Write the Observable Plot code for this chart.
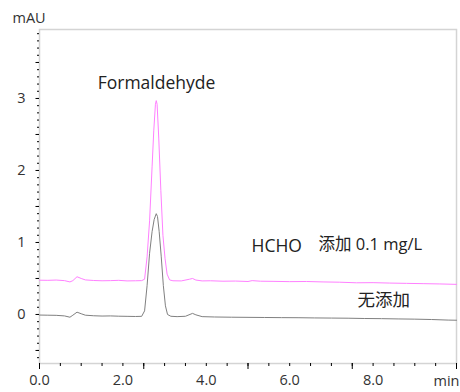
<!DOCTYPE html>
<html>
<head>
<meta charset="utf-8">
<script src="https://cdn.jsdelivr.net/npm/d3@7"></script>
<script src="https://cdn.jsdelivr.net/npm/@observablehq/plot@0.6"></script>
<style>
  html, body { margin: 0; padding: 0; background: #fff; }
  #chart { width: 460px; height: 392px; }
</style>
</head>
<body>
<div id="chart"></div>
<script>
// retention time (min) and absorbance (mAU)
const spikedTime = [0.0,0.2,0.4,0.6,0.73,0.8,0.9,1.0,1.1,1.3,1.5,1.7,1.9,2.1,2.3,2.45,2.52,2.58,2.64,2.70,2.74,2.78,2.80,2.82,2.86,2.91,2.96,3.01,3.06,3.12,3.2,3.4,3.6,3.67,3.75,3.9,4.1,4.4,4.7,5.0,5.1,5.3,5.6,6.0,6.4,6.8,7.2,7.6,8.0,8.4,8.8,9.2,9.6,10.0];
const spikedValue = [0.476,0.474,0.478,0.470,0.452,0.470,0.524,0.500,0.480,0.472,0.468,0.470,0.474,0.466,0.468,0.470,0.490,0.80,1.30,2.05,2.55,2.92,2.97,2.92,2.45,1.72,1.10,0.78,0.56,0.48,0.468,0.466,0.490,0.500,0.478,0.466,0.468,0.462,0.464,0.458,0.470,0.462,0.460,0.456,0.458,0.452,0.448,0.440,0.442,0.436,0.432,0.428,0.424,0.418];

const blankTime = [0.0,0.2,0.4,0.6,0.73,0.8,0.9,1.0,1.1,1.3,1.5,1.7,1.9,2.1,2.3,2.45,2.52,2.58,2.64,2.70,2.75,2.80,2.83,2.87,2.92,2.97,3.02,3.07,3.15,3.3,3.5,3.67,3.75,3.9,4.2,4.6,5.0,5.4,5.8,6.2,6.6,7.0,7.4,7.8,8.2,8.6,9.0,9.4,9.8,10.0];
const blankValue = [-0.008,-0.010,-0.012,-0.020,-0.038,-0.010,0.032,0.010,-0.010,-0.018,-0.022,-0.020,-0.024,-0.026,-0.028,-0.026,0.05,0.40,0.85,1.15,1.32,1.40,1.36,1.15,0.80,0.40,0.12,0.0,-0.025,-0.030,-0.025,0.015,-0.005,-0.030,-0.035,-0.038,-0.040,-0.042,-0.044,-0.045,-0.048,-0.050,-0.052,-0.056,-0.058,-0.062,-0.065,-0.070,-0.078,-0.080];

const xLabelTicks = [0, 2, 4, 6, 8];
const xMajorTicks = [0, 2.5, 5, 7.5, 10];
const yLabelTicks = [0, 1, 2, 3];

const spiked = spikedTime.map((t, i) => ({t, v: spikedValue[i]}));
const blank = blankTime.map((t, i) => ({t, v: blankValue[i]}));

const xMinor = d3.range(0, 10.001, 0.5).map(d => +d.toFixed(2));
const yMinor = d3.range(-0.6, 3.951, 0.1).map(d => +d.toFixed(2));
const yMajor = d3.range(-0.5, 3.951, 0.5).map(d => +d.toFixed(2));

const font = "'Open Sans', 'Noto Sans CJK SC', sans-serif";
const txt = "#222";

const chart = Plot.plot({
  width: 460,
  height: 392,
  marginLeft: 39,
  marginRight: 4,
  marginTop: 29,
  marginBottom: 29,
  style: {fontFamily: font, background: "#fff", color: txt},
  x: {domain: [0, 10], label: null},
  y: {domain: [-0.681, 3.958], label: null},
  marks: [
    Plot.frame({stroke: "#d4d4d4", strokeWidth: 1.5}),
    // x axis ticks
    Plot.axisX({ticks: xMinor, tickSize: 3, text: null, label: null, stroke: "#000"}),
    Plot.axisX({ticks: xMajorTicks, tickSize: 6, text: null, label: null, stroke: "#000"}),
    Plot.axisX({ticks: xLabelTicks, tickSize: 0, tickPadding: 11, label: null, tickFormat: d3.format(".1f"), fontSize: 14.5, fill: "#333"}),
    Plot.text(["min"], {frameAnchor: "bottom-right", dx: 3, dy: 18, textAnchor: "end", lineAnchor: "middle", fontSize: 14.5, fill: "#333"}),
    // y axis ticks
    Plot.axisY({ticks: yMinor, tickSize: 2, text: null, label: null, stroke: "#000"}),
    Plot.axisY({ticks: yMajor, tickSize: 3.5, text: null, label: null, stroke: "#000"}),
    Plot.axisY({ticks: yLabelTicks, tickSize: 0, tickPadding: 14, label: null, tickFormat: d3.format("d"), fontSize: 14.5, fill: "#333"}),
    Plot.text(["mAU"], {frameAnchor: "top-left", dx: -27, dy: -11, textAnchor: "start", lineAnchor: "middle", fontSize: 14.5, fill: "#333"}),
    // traces
    Plot.line(spiked, {x: "t", y: "v", stroke: "#ff80ff", strokeWidth: 1}),
    Plot.line(blank, {x: "t", y: "v", stroke: "#808080", strokeWidth: 1}),
    // annotations
    Plot.text(["Formaldehyde"], {x: 2.806, y: 3.208, textAnchor: "middle", lineAnchor: "middle", fontSize: 17.5, fill: txt}),
    Plot.text(["HCHO"], {x: 5.084, y: 0.951, textAnchor: "start", lineAnchor: "middle", fontSize: 17.5, fill: txt}),
    Plot.text(["添加 0.1 mg/L"], {x: 6.69, y: 0.965, textAnchor: "start", lineAnchor: "middle", fontSize: 16.5, fill: txt}),
    Plot.text(["无添加"], {x: 7.626, y: 0.201, textAnchor: "start", lineAnchor: "middle", fontSize: 17.5, fill: txt})
  ]
});
document.getElementById("chart").appendChild(chart);
</script>
</body>
</html>
